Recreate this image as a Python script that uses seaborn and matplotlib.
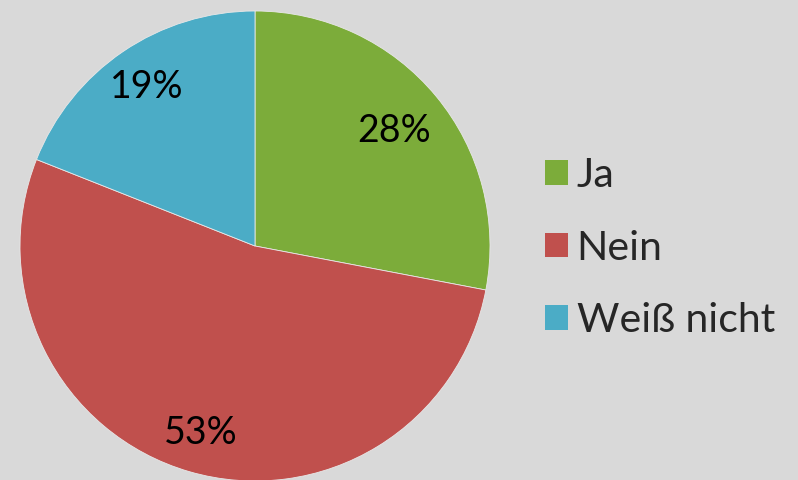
import matplotlib
matplotlib.use("Agg")
import matplotlib.pyplot as plt
import matplotlib.patches as mpatches
import numpy as np
import seaborn as sns

# Survey answers
categories = ["Ja", "Nein", "Weiß nicht"]
shares = [28, 53, 19]
colors = ["#7CAC3A", "#C0504D", "#4BACC6"]
label_dist = [0.77, 0.83, 0.82]

sns.set_theme(style="white")
plt.rcParams["font.family"] = ["Lato", "DejaVu Sans"]

bg = "#D9D9D9"
fig = plt.figure(figsize=(7.98, 4.8), dpi=100, facecolor=bg)
ax = fig.add_axes([20 / 798, -1 / 480, 470 / 798, 470 / 480])
ax.set_facecolor(bg)

wedges, _ = ax.pie(shares, colors=colors, startangle=90, counterclock=False,
                   radius=1.0, wedgeprops=dict(edgecolor="#E8E8E8", linewidth=0.6))

# Percentage labels placed along each wedge's bisector
for w, val, d in zip(wedges, shares, label_dist):
    mid = np.deg2rad((w.theta1 + w.theta2) / 2)
    ax.text(d * np.cos(mid), d * np.sin(mid), f"{val}%", ha="center", va="center",
            fontsize=27, color="black")

ax.set_xlim(-1, 1)
ax.set_ylim(-1, 1)
ax.set_aspect("equal")
ax.axis("off")

handles = [mpatches.Patch(facecolor=c, edgecolor="none") for c in colors]
leg = fig.legend(handles, categories, loc="center left", bbox_to_anchor=(545 / 798, 1 - 248 / 480),
                 frameon=False, fontsize=29.5, handlelength=0.55, handleheight=0.55,
                 handletextpad=0.22, labelspacing=0.86, borderpad=0, borderaxespad=0)

fig.savefig("out.png", dpi=100, facecolor=bg)
